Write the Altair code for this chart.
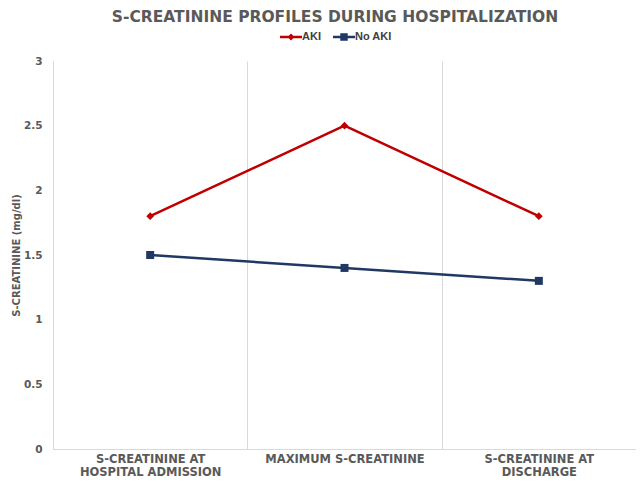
import altair as alt
import pandas as pd

categories = ["S-CREATININE AT\nHOSPITAL ADMISSION", "MAXIMUM S-CREATININE", "S-CREATININE AT\nDISCHARGE"]
series = ["AKI", "No AKI"]
aki_values = [1.8, 2.5, 1.8]
no_aki_values = [1.5, 1.4, 1.3]
colors = ["#C00000", "#1F3864"]
markers = ["diamond", "square"]
y_ticks = [0, 0.5, 1, 1.5, 2, 2.5, 3]

rows = []
for s, vals in zip(series, [aki_values, no_aki_values]):
    for c, v in zip(categories, vals):
        rows.append({"stage": c, "group": s, "value": v})
df = pd.DataFrame(rows)

GRAY = "#595959"
GRID = "#D9D9D9"

legend_paths = [
    "M-1,-0.11L1,-0.11L1,0.11L-1,0.11Z M0,-0.32L0.32,0L0,0.32L-0.32,0Z",
    "M-1,-0.11L1,-0.11L1,0.11L-1,0.11Z M-0.34,-0.34L0.34,-0.34L0.34,0.34L-0.34,0.34Z",
]

x_enc = alt.X(
    "stage:N",
    sort=categories,
    scale=alt.Scale(type="band", paddingInner=0, paddingOuter=0),
    axis=alt.Axis(
        title=None, labelAngle=0, tickBand="extent", grid=True, gridColor=GRID,
        gridWidth=1, domainColor=GRID, domainWidth=1, ticks=False,
        labelExpr="split(datum.label, '\\n')", labelFont="DejaVu Sans",
        labelFontSize=11.5, labelFontWeight="bold", labelColor=GRAY,
        labelPadding=4, labelLineHeight=13, labelBaseline="top",
    ),
)
y_enc = alt.Y(
    "value:Q",
    scale=alt.Scale(domain=[0, 3]),
    axis=alt.Axis(
        values=y_ticks, grid=False, format="~g", ticks=False, domainColor=GRID,
        domainWidth=1, labelFont="DejaVu Sans", labelFontSize=10.5,
        labelFontWeight="bold", labelColor=GRAY, labelPadding=11,
        title="S-CREATININE (mg/dl)", titleFont="DejaVu Sans",
        titleFontSize=10, titleFontWeight="bold", titleColor=GRAY, titlePadding=2,
    ),
)
legend = alt.Legend(
    title=None, orient="none", direction="horizontal", legendX=227, legendY=-35,
    labelFont="Liberation Sans", labelFontSize=11, labelFontWeight="bold",
    labelColor="#404040", symbolSize=484, labelOffset=0, columnPadding=12,
    symbolOpacity=1, symbolStrokeWidth=0,
)
color_enc = alt.Color("group:N", scale=alt.Scale(domain=series, range=colors), legend=legend)

base = alt.Chart(df).encode(x=x_enc, y=y_enc, color=color_enc)
lines = base.mark_line(strokeWidth=2.5)
pts_aki = base.transform_filter(alt.datum.group == series[0]).mark_point(
    filled=True, opacity=1, size=60, shape=markers[0])
pts_no = base.transform_filter(alt.datum.group == series[1]).mark_point(
    filled=True, opacity=1, size=64, shape=markers[1])
legend_layer = base.mark_point(filled=True, opacity=0, size=484).encode(
    shape=alt.Shape("group:N", scale=alt.Scale(domain=series, range=legend_paths), legend=legend)
)

chart = alt.layer(lines, pts_aki, pts_no, legend_layer).properties(
    width=583, height=388,
    title=alt.TitleParams(
        "S-CREATININE PROFILES DURING HOSPITALIZATION", anchor="middle",
        font="DejaVu Sans", fontSize=15.5, fontWeight="bold", color=GRAY, dx=-9.5, offset=1,
    ),
    autosize=alt.AutoSizeParams(type="none"),
    padding={"left": 45, "top": 53, "right": 0, "bottom": 29},
).configure_view(stroke=None)

chart.save("out.html", embed_options={"renderer": "svg", "actions": False})
